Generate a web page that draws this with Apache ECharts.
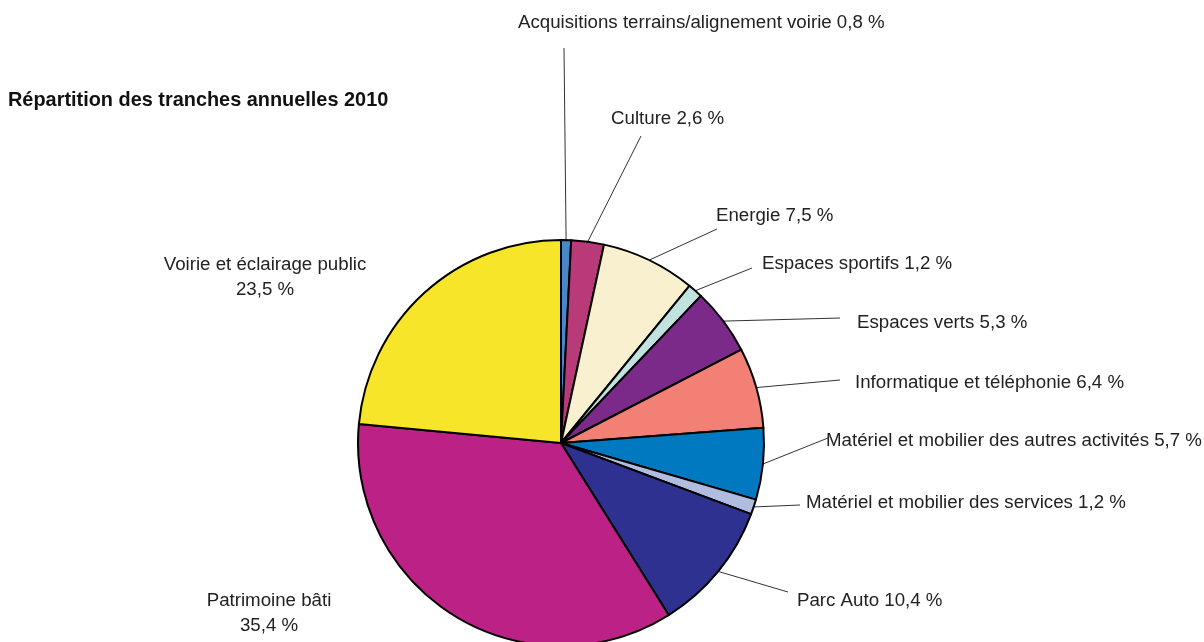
<!DOCTYPE html>
<html>
<head>
<meta charset="utf-8">
<script src="https://cdn.jsdelivr.net/npm/echarts@6/dist/echarts.min.js"></script>
<style>
  html, body { margin: 0; padding: 0; background: #fff; }
  #chart { width: 1204px; height: 642px; }
</style>
</head>
<body>
<div id="chart"></div>
<script>
// données
var categories = [
  "Acquisitions terrains/alignement voirie",
  "Culture",
  "Energie",
  "Espaces sportifs",
  "Espaces verts",
  "Informatique et téléphonie",
  "Matériel et mobilier des autres activités",
  "Matériel et mobilier des services",
  "Parc Auto",
  "Patrimoine bâti",
  "Voirie et éclairage public"
];
var values = [0.8, 2.6, 7.5, 1.2, 5.3, 6.4, 5.7, 1.2, 10.4, 35.4, 23.5];
var colors = [
  "#4a87c8", "#b83a78", "#f9f0cf", "#c2e2e0", "#7b2a8a", "#f28075",
  "#0079c1", "#b0bde0", "#2e3190", "#bc2186", "#f7e52a"
];

// position des étiquettes : [x, y, align, fin de trait x, fin de trait y, deux lignes]
var labelPos = [
  [518, 23, "left", 564, 48, false],
  [611, 119, "left", 641, 136, false],
  [716, 216, "left", 717, 229, false],
  [762, 264, "left", 752, 268, false],
  [857, 323, "left", 840, 318, false],
  [855, 383, "left", 840, 380, false],
  [826, 441, "left", 828, 438, false],
  [806, 503, "left", 800, 505, false],
  [797, 601, "left", 788, 592, false],
  [269, 613, "center", null, null, true],
  [265, 277, "center", null, null, true]
];

var pieData = categories.map(function (name, i) {
  var item = {
    name: name,
    value: values[i],
    itemStyle: { color: colors[i] }
  };
  if (labelPos[i][3] == null) {
    item.labelLine = { show: false };
  }
  return item;
});

function fmt(v) {
  return v.toFixed(1).replace(".", ",") + " %";
}

var myChart = echarts.init(document.getElementById("chart"));
var option = {
  animation: false,
  backgroundColor: "#fff",
  title: {
    text: "Répartition des tranches annuelles 2010",
    left: 8,
    top: 90,
    padding: 0,
    textStyle: {
      fontFamily: "Liberation Sans",
      fontSize: 19.9,
      fontWeight: "bold",
      lineHeight: 22,
      color: "#111"
    }
  },
  series: [
    {
      type: "pie",
      center: [561, 443],
      radius: 203,
      startAngle: 90,
      clockwise: true,
      avoidLabelOverlap: false,
      emphasis: { disabled: true },
      itemStyle: {
        borderColor: "#000",
        borderWidth: 2
      },
      label: {
        show: true,
        position: "outside",
        fontFamily: "Liberation Sans",
        fontSize: 18.7,
        lineHeight: 25,
        color: "#222",
        formatter: function (p) {
          var sep = labelPos[p.dataIndex][5] ? "\n" : " ";
          return p.name + sep + fmt(p.value);
        }
      },
      labelLine: {
        show: true,
        length: 10,
        length2: 0,
        lineStyle: { color: "#333", width: 1 }
      },
      labelLayout: function (params) {
        var lp = labelPos[params.dataIndex];
        var res = {
          x: lp[0],
          y: lp[1],
          align: lp[2],
          verticalAlign: "middle"
        };
        if (lp[3] != null && params.labelLinePoints) {
          res.labelLinePoints = [params.labelLinePoints[0], [lp[3], lp[4]]];
        }
        return res;
      },
      data: pieData
    }
  ]
};
myChart.setOption(option);
window.addEventListener("resize", function () {
  myChart.resize();
});
</script>
</body>
</html>
